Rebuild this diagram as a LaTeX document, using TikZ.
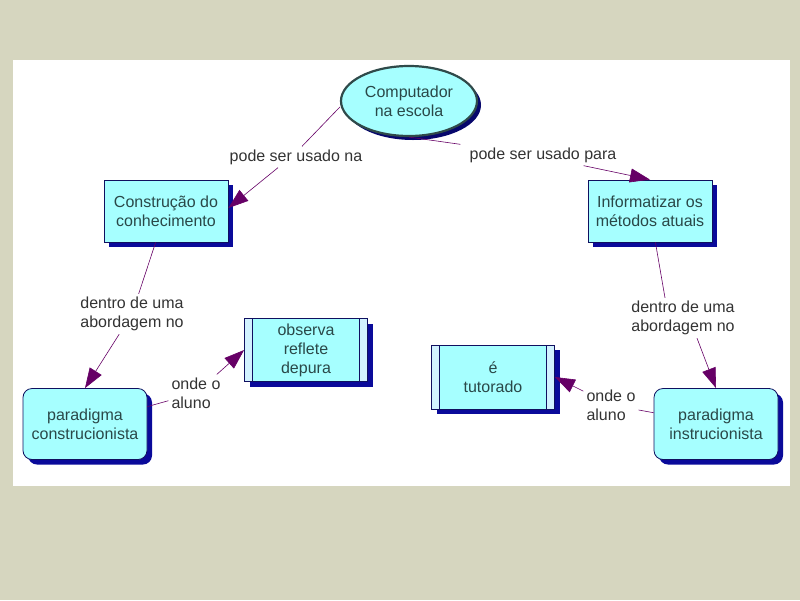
\documentclass[tikz,border=0pt]{standalone}
\usepackage{fontspec}
\setmainfont{Liberation Sans}
\usetikzlibrary{shapes.geometric,shadows,arrows.meta}
\definecolor{bgbeige}{HTML}{D6D6BF}
\definecolor{cyanfill}{HTML}{A6FFFF}
\definecolor{navyshadow}{HTML}{0A0A9A}
\definecolor{boxline}{HTML}{101060}
\definecolor{nodetext}{HTML}{2A4848}
\definecolor{labeltext}{HTML}{333333}
\definecolor{linkcol}{HTML}{660066}
\definecolor{barfill}{HTML}{D2F2FF}
\definecolor{ellline}{HTML}{2F4A4A}
\tikzset{
  conceptbox/.style={draw=boxline, line width=0.8pt, fill=cyanfill, text=nodetext,
    align=center, font=\fontsize{16}{19}\selectfont, inner sep=0pt,
    drop shadow={shadow xshift=5pt, shadow yshift=-5pt, fill=navyshadow, opacity=1}},
  roundbox/.style={conceptbox, rounded corners=9pt},
  barbox/.style={conceptbox, path picture={
     \fill[barfill] (path picture bounding box.north west) rectangle ([xshift=8pt]path picture bounding box.south west);
     \fill[barfill] (path picture bounding box.north east) rectangle ([xshift=-8pt]path picture bounding box.south east);
     \draw[boxline, line width=0.8pt] ([xshift=8pt]path picture bounding box.north west) -- ([xshift=8pt]path picture bounding box.south west);
     \draw[boxline, line width=0.8pt] ([xshift=-8pt]path picture bounding box.north east) -- ([xshift=-8pt]path picture bounding box.south east);}},
  topoval/.style={ellipse, draw=ellline, line width=2.2pt, fill=cyanfill, text=nodetext,
    align=center, font=\fontsize{16}{19}\selectfont, inner sep=0pt,
    drop shadow={shadow xshift=4pt, shadow yshift=-4pt, fill=navyshadow!70!black, opacity=1}},
  linklabel/.style={text=labeltext, font=\fontsize{16}{19}\selectfont, inner sep=3pt},
  linkline/.style={draw=linkcol, line width=0.6pt},
  linkarrow/.style={linkline, -{Triangle[length=20pt, width=14pt]}},
}
\begin{document}
\begin{tikzpicture}[x=1pt, y=-1pt]
\fill[bgbeige] (0,0) rectangle (800,600);
\fill[white] (13,60) rectangle (790,486);
\useasboundingbox (0,0) rectangle (800,600);

% concept nodes
\node[topoval, minimum width=136pt, minimum height=70pt] (comp) at (409,101) {Computador\\na escola};
\node[conceptbox, minimum width=124pt, minimum height=62pt] (constr) at (166,211) {Construção do\\conhecimento};
\node[conceptbox, minimum width=124pt, minimum height=62pt] (inform) at (650,211) {Informatizar os\\métodos atuais};
\node[roundbox, minimum width=124pt, minimum height=71pt] (pconst) at (85,424) {paradigma\\construcionista};
\node[roundbox, minimum width=124pt, minimum height=71pt] (pinstr) at (716,424) {paradigma\\instrucionista};
\node[barbox, minimum width=123pt, minimum height=63pt] (obs) at (306,350) {observa\\reflete\\depura};
\node[barbox, minimum width=123pt, minimum height=64pt] (tut) at (493,377) {é\\tutorado};

% link labels
\node[linklabel] (l1) at (296,157) {pode ser usado na};
\node[linklabel] (l2) at (543,155) {pode ser usado para};
\node[linklabel, align=left] (l3) at (132,314) {dentro de uma\\abordagem no};
\node[linklabel, align=left] (l4) at (683,318) {dentro de uma\\abordagem no};
\node[linklabel, align=left] (l5) at (196,393) {onde o\\aluno};
\node[linklabel, align=left] (l6) at (611,405) {onde o\\aluno};

% connectors
\draw[linkline] ([yshift=-6pt]comp.west) -- ([xshift=6pt]l1.north);
\draw[linkarrow] ([xshift=-18pt]l1.south) -- ([yshift=3pt]constr.east);
\draw[linkline] (comp.south) -- ([xshift=-6pt]l2.north west);
\draw[linkarrow] ([xshift=-36pt]l2.south east) -- (inform.north);
\draw[linkline] (constr) -- (l3);
\draw[linkarrow] (l3) -- (pconst.north);
\draw[linkline] (inform) -- ([xshift=-18pt]l4.north);
\draw[linkarrow] ([xshift=14pt]l4.south) -- (pinstr.north);
\draw[linkline] (pconst) -- (l5);
\draw[linkarrow] (l5) -- (obs.west);
\draw[linkline] (pinstr) -- (l6);
\draw[linkarrow] (l6) -- (tut.east);
\end{tikzpicture}
\end{document}
